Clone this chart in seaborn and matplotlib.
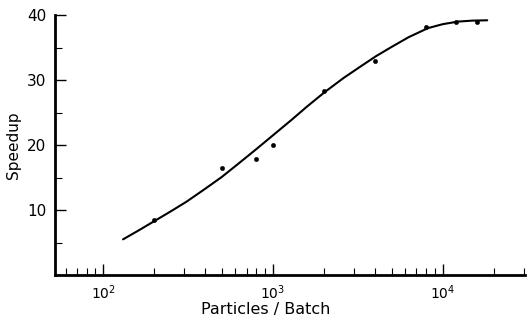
import matplotlib
matplotlib.use("Agg")
import matplotlib.pyplot as plt
import matplotlib.ticker as mticker
import numpy as np
import pandas as pd
import seaborn as sns

# measured points
particles = [200, 500, 800, 1000, 2000, 4000, 8000, 12000, 16000]
speedup = [8.5, 16.4, 17.9, 20.0, 28.3, 32.9, 38.2, 38.9, 38.9]

# fitted curve
curve_x = [131, 160, 200, 250, 310, 400, 500, 630, 800, 1000, 1290, 1600, 2030, 2600,
           3200, 4060, 5000, 6300, 8200, 10000, 12300, 15000, 18300]
curve_y = [5.5, 6.8, 8.3, 9.8, 11.3, 13.3, 15.1, 17.2, 19.4, 21.5, 23.9, 26.0, 28.2, 30.3,
           31.9, 33.7, 35.1, 36.6, 38.0, 38.6, 39.0, 39.15, 39.2]

yticks_major = [10, 20, 30, 40]
yticks_minor = [5, 15, 25, 35]

sns.set_style("ticks")
plt.rcParams['font.family'] = ['DejaVu Sans']

fig = plt.figure(figsize=(5.27, 3.21), dpi=100)
ax = fig.add_axes([0.104, 0.143, 0.892, 0.810])

df_curve = pd.DataFrame({"x": curve_x, "y": curve_y})
df_pts = pd.DataFrame({"x": particles, "y": speedup})
sns.lineplot(data=df_curve, x="x", y="y", ax=ax, color="black", linewidth=1.5)
sns.scatterplot(data=df_pts, x="x", y="y", ax=ax, color="black", s=10, edgecolor="black",
                linewidth=0.3, zorder=3)

ax.set_xscale("log")
ax.set_xlim(51.9, 30500)
ax.set_ylim(0, 40)

ax.set_yticks(yticks_major)
ax.set_yticks(yticks_minor, minor=True)
ax.xaxis.set_major_locator(mticker.LogLocator(base=10, numticks=10))
ax.xaxis.set_minor_locator(mticker.LogLocator(base=10, subs=np.arange(2, 10), numticks=20))
ax.xaxis.set_minor_formatter(mticker.NullFormatter())

ax.tick_params(axis="both", which="major", direction="in", length=8, width=1.0,
               color="black", labelcolor="black")
ax.tick_params(axis="both", which="minor", direction="in", length=5, width=0.8, color="black")
ax.tick_params(axis="x", which="major", pad=6, labelsize=10)
ax.tick_params(axis="y", which="major", pad=6, labelsize=11)

for s in ["top", "right"]:
    ax.spines[s].set_visible(False)
for s in ["left", "bottom"]:
    ax.spines[s].set_linewidth(2.0)
    ax.spines[s].set_color("black")

ax.set_xlabel("Particles / Batch", fontsize=11.5, color="black")
ax.set_ylabel("Speedup", fontsize=11, color="black")
ax.xaxis.set_label_coords(0.449, -0.105)
ax.yaxis.set_label_coords(-0.072, 0.5)

fig.savefig("out.png", dpi=100)
